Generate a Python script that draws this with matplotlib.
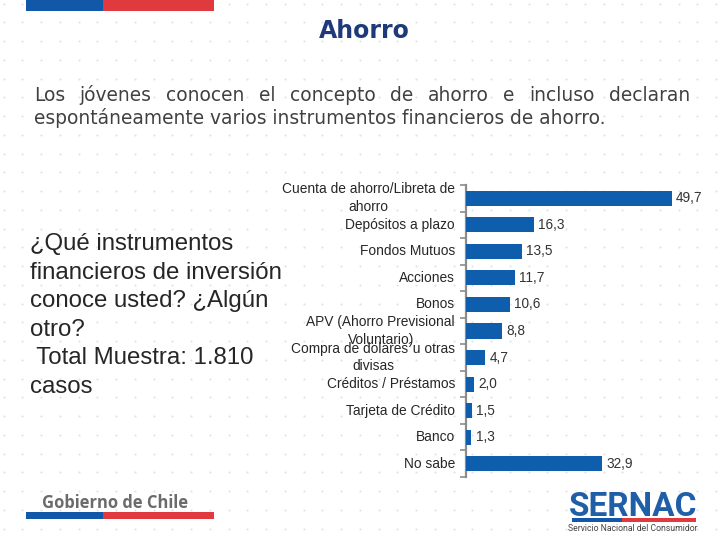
import matplotlib
matplotlib.use("Agg")
import matplotlib.pyplot as plt
import matplotlib.transforms as mtransforms
import numpy as np

categories = ["Cuenta de ahorro/Libreta de\nahorro", "Depósitos a plazo", "Fondos Mutuos",
              "Acciones", "Bonos", "APV (Ahorro Previsional\nVoluntario)",
              "Compra de dolares´u otras\ndivisas", "Créditos / Préstamos",
              "Tarjeta de Crédito", "Banco", "No sabe"]
values = [49.7, 16.3, 13.5, 11.7, 10.6, 8.8, 4.7, 2.0, 1.5, 1.3, 32.9]

title = "Ahorro"
subtitle_line1 = "Los jóvenes conocen el concepto de ahorro e incluso declaran"
subtitle_line2 = "espontáneamente varios instrumentos financieros de ahorro."
question_lines = ["¿Qué instrumentos", "financieros de inversión", "conoce usted? ¿Algún",
                  "otro?", " Total Muestra: 1.810", "casos"]

BAR = "#0F5EAD"
BLUE_FLAG = "#1258A8"
RED_FLAG = "#E03A3E"

fig = plt.figure(figsize=(7.2, 5.4), dpi=100)
fig.patch.set_facecolor("white")

# background axes in pixel coordinates
bg = fig.add_axes([0, 0, 1, 1], zorder=0)
bg.set_xlim(0, 720)
bg.set_ylim(540, 0)
bg.axis("off")

# dotted pattern
xs = np.arange(3.5, 720, 18.75)
ys = np.arange(3.5, 540, 18.75)
gx, gy = np.meshgrid(xs, ys)
bg.scatter(gx.ravel(), gy.ravel(), s=2.2, color="#dde3e9", linewidths=0, zorder=0)

# flag bars
bg.add_patch(plt.Rectangle((26, 0), 77, 11, color=BLUE_FLAG, lw=0, zorder=2))
bg.add_patch(plt.Rectangle((103, 0), 111, 11, color=RED_FLAG, lw=0, zorder=2))
bg.add_patch(plt.Rectangle((26, 512), 77, 7, color=BLUE_FLAG, lw=0, zorder=2))
bg.add_patch(plt.Rectangle((103, 512), 111, 7, color=RED_FLAG, lw=0, zorder=2))
bg.text(42, 508, "Gobierno de Chile", fontsize=11.9, fontweight="bold", color="#6b6b6b",
        family="Open Sans", ha="left", va="baseline", zorder=3)

# SERNAC logo
bg.text(633, 516, "SERNAC", fontsize=24, fontweight="bold", color="#1F5FA8",
        family="Roboto", ha="center", va="baseline", zorder=3)
bg.add_patch(plt.Rectangle((572, 518), 50, 3.5, color=BLUE_FLAG, lw=0, zorder=3))
bg.add_patch(plt.Rectangle((622, 518), 74, 3.5, color=RED_FLAG, lw=0, zorder=3))
bg.text(633, 531, "Servicio Nacional del Consumidor", fontsize=6.2, color="#444444",
        family="Roboto", ha="center", va="baseline", zorder=3)

# title
bg.text(364, 38, title, fontsize=17, fontweight="bold", color="#1F3A7A",
        family="DejaVu Sans", ha="center", va="baseline", zorder=3)

# justified subtitle line 1
renderer = fig.canvas.get_renderer()
words = subtitle_line1.split(" ")
sub_kw = dict(fontsize=13.4, color="#404040", family="DejaVu Sans", va="baseline", zorder=3)
x0, x1 = 34, 690
tmp = [bg.text(0, 0, w, **sub_kw) for w in words]
widths = [t.get_window_extent(renderer).width for t in tmp]
for t in tmp:
    t.remove()
gap = (x1 - x0 - sum(widths)) / (len(words) - 1)
x = x0
for w, wd in zip(words, widths):
    bg.text(x, 101, w, ha="left", **sub_kw)
    x += wd + gap
bg.text(x0, 124, subtitle_line2, ha="left", **sub_kw)

# question text
for i, line in enumerate(question_lines):
    bg.text(30, 250 + i * 28.6, line, fontsize=17.3, color="#262626",
            family="Liberation Sans", ha="left", va="baseline", zorder=3)

# chart axes
ax = fig.add_axes([466 / 720, 1 - 477 / 540, 228 / 720, 292 / 540], zorder=2)
ax.patch.set_alpha(0)
y = np.arange(len(categories))
ax.barh(y, values, height=0.57, color=BAR, zorder=3)
ax.set_xlim(0, 55)
ax.set_ylim(len(categories) - 0.5, -0.5)
for s in ["top", "right", "bottom"]:
    ax.spines[s].set_visible(False)
ax.spines["left"].set_color("#8c8c8c")
ax.spines["left"].set_linewidth(1.6)
ax.set_xticks([])
ax.set_yticks(y)
ax.set_yticklabels([])
ax.tick_params(axis="y", which="major", length=0)
ax.set_yticks(np.arange(-0.5, len(categories), 1), minor=True)
ax.tick_params(axis="y", which="minor", length=4, color="#8c8c8c", width=1.2)

trans = mtransforms.blended_transform_factory(ax.transAxes, ax.transData) + \
    mtransforms.ScaledTranslation(-11 / 100, 0, fig.dpi_scale_trans)
for yi, lab in zip(y, categories):
    ax.text(0, yi, lab, transform=trans, ha="right", va="center", multialignment="center",
            linespacing=1.33, fontsize=9.9, color="#262626", family="Liberation Sans",
            clip_on=False)

for yi, v in zip(y, values):
    ax.annotate(f"{v:.1f}".replace(".", ","), (v, yi), xytext=(3, 0), textcoords="offset points",
                ha="left", va="center", fontsize=9.8, color="#333333", family="Liberation Sans")

fig.savefig("out.png", dpi=100, facecolor="white")
